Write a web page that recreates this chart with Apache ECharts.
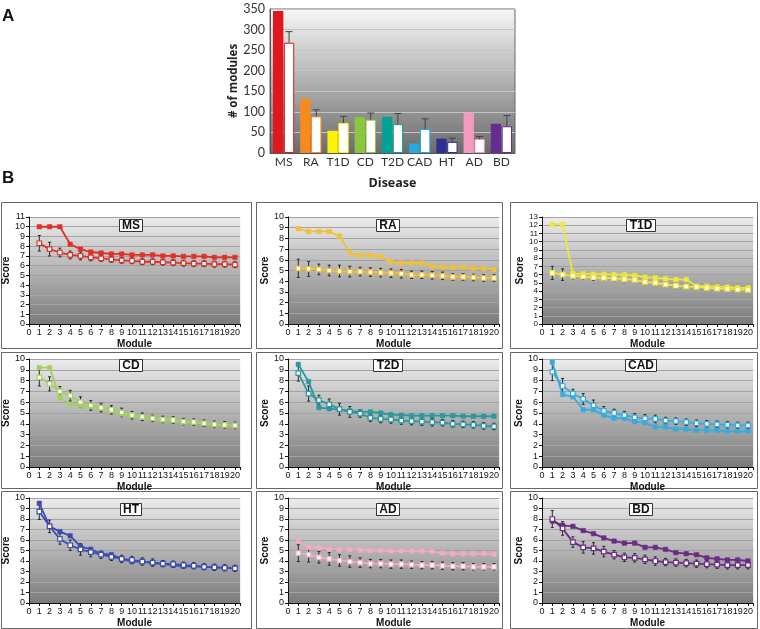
<!DOCTYPE html>
<html>
<head>
<meta charset="utf-8">
<script src="https://cdn.jsdelivr.net/npm/echarts@6/dist/echarts.min.js"></script>
<style>
html,body{margin:0;padding:0;background:#fff;}
#chart{width:760px;height:629px;}
</style>
</head>
<body>
<div id="chart"></div>
<script>
// ---------- Panel A data ----------
const diseases = ['MS','RA','T1D','CD','T2D','CAD','HT','AD','BD'];
const barObserved = [345,132,54,87,88,23,35,98,71];
const barRandom   = [268,89,73,81,70,58,27,34,65];
const barRandomSd = [27,16,16,16,26,25,9,6,26];
const barTicks = [0,50,100,150,200,250,300,350];

// ---------- Panel B data ----------
const modules = [1,2,3,4,5,6,7,8,9,10,11,12,13,14,15,16,17,18,19,20];
const moduleTicks = [0,1,2,3,4,5,6,7,8,9,10,11,12,13,14,15,16,17,18,19,20];

const msObserved = [10,10,10,8.2,7.7,7.4,7.3,7.2,7.2,7.1,7.1,7.1,7.0,7.0,6.95,6.95,6.95,6.85,6.85,6.85];
const msRandom   = [8.3,7.7,7.35,7.1,7.0,6.85,6.75,6.65,6.55,6.5,6.4,6.4,6.35,6.3,6.25,6.2,6.2,6.15,6.15,6.1];
const msRandomSd = [0.8,0.7,0.45,0.4,0.4,0.35,0.3,0.3,0.3,0.3,0.3,0.3,0.3,0.3,0.3,0.3,0.3,0.3,0.3,0.3];

const raObserved = [8.9,8.65,8.65,8.65,8.2,6.7,6.4,6.4,6.3,5.8,5.7,5.7,5.7,5.4,5.3,5.3,5.3,5.2,5.2,5.1];
const raRandom   = [5.2,5.15,5.1,5.0,4.95,4.9,4.9,4.85,4.8,4.75,4.7,4.6,4.6,4.55,4.5,4.4,4.4,4.35,4.3,4.3];
const raRandomSd = [0.85,0.7,0.5,0.5,0.55,0.5,0.4,0.4,0.4,0.4,0.4,0.35,0.35,0.35,0.35,0.3,0.3,0.3,0.3,0.3];

const t1dObserved = [12.1,12.1,6.1,6.1,6.05,6.05,6.0,6.0,5.9,5.7,5.6,5.5,5.4,5.4,4.6,4.6,4.5,4.5,4.4,4.4];
const t1dRandom   = [6.2,6.0,5.85,5.75,5.65,5.6,5.55,5.45,5.35,5.1,5.0,4.8,4.65,4.55,4.5,4.4,4.3,4.25,4.2,4.15];
const t1dRandomSd = [0.8,0.7,0.35,0.35,0.35,0.3,0.3,0.3,0.3,0.3,0.3,0.25,0.25,0.25,0.25,0.25,0.25,0.25,0.25,0.25];

const cdObserved = [9.2,9.2,6.4,5.8,5.7,5.6,5.45,5.2,4.9,4.75,4.6,4.5,4.35,4.3,4.15,4.1,4.0,3.9,3.85,3.8];
const cdRandom   = [8.3,7.7,7.0,6.6,6.0,5.7,5.5,5.3,5.05,4.8,4.65,4.5,4.4,4.35,4.2,4.15,4.05,3.95,3.9,3.85];
const cdRandomSd = [0.8,0.65,0.45,0.5,0.5,0.45,0.4,0.4,0.4,0.35,0.35,0.3,0.3,0.3,0.3,0.3,0.3,0.3,0.3,0.3];

const t2dObserved = [9.5,7.9,5.5,5.4,5.3,5.2,5.1,5.1,5.0,4.85,4.8,4.75,4.75,4.75,4.75,4.75,4.7,4.7,4.7,4.7];
const t2dRandom   = [8.7,6.8,6.2,5.8,5.35,5.1,4.95,4.55,4.45,4.4,4.3,4.25,4.2,4.15,4.1,4.0,3.95,3.9,3.8,3.75];
const t2dRandomSd = [0.75,0.7,0.45,0.5,0.55,0.5,0.35,0.35,0.35,0.35,0.35,0.35,0.35,0.35,0.3,0.3,0.3,0.3,0.3,0.3];

const cadObserved = [9.7,6.7,6.5,5.3,5.3,4.8,4.5,4.5,4.2,4.1,3.7,3.7,3.5,3.5,3.4,3.4,3.4,3.3,3.3,3.3];
const cadRandom   = [8.8,7.5,6.8,6.3,5.7,5.2,5.0,4.8,4.6,4.5,4.45,4.3,4.25,4.15,4.05,4.0,3.95,3.9,3.85,3.85];
const cadRandomSd = [0.8,0.7,0.4,0.5,0.5,0.4,0.35,0.35,0.35,0.35,0.35,0.3,0.3,0.3,0.3,0.3,0.3,0.3,0.3,0.3];

const htObserved = [9.5,7.3,6.8,6.4,5.4,5.1,4.7,4.6,4.2,3.95,3.95,3.8,3.7,3.6,3.5,3.5,3.45,3.4,3.35,3.3];
const htRandom   = [8.7,7.3,6.1,5.5,5.1,4.85,4.6,4.4,4.2,4.1,3.95,3.85,3.75,3.7,3.6,3.55,3.45,3.4,3.35,3.3];
const htRandomSd = [0.75,0.6,0.5,0.5,0.55,0.45,0.35,0.35,0.35,0.35,0.35,0.35,0.3,0.3,0.3,0.3,0.3,0.3,0.3,0.3];

const adObserved = [5.9,5.3,5.25,5.15,5.1,5.1,5.05,5.0,5.0,4.95,4.95,4.95,4.95,4.9,4.75,4.7,4.7,4.7,4.7,4.65];
const adRandom   = [4.75,4.6,4.35,4.2,4.05,3.95,3.85,3.75,3.75,3.7,3.7,3.65,3.6,3.6,3.55,3.5,3.5,3.45,3.45,3.45];
const adRandomSd = [0.8,0.7,0.55,0.6,0.55,0.55,0.45,0.4,0.4,0.4,0.4,0.35,0.35,0.35,0.35,0.35,0.35,0.3,0.3,0.3];

const bdObserved = [7.8,7.4,7.3,6.9,6.6,6.2,5.9,5.7,5.7,5.3,5.3,5.1,4.8,4.7,4.6,4.3,4.2,4.1,4.1,4.0];
const bdRandom   = [8.0,7.1,5.8,5.3,5.2,4.9,4.6,4.35,4.3,4.15,4.0,3.9,3.85,3.8,3.75,3.7,3.65,3.6,3.6,3.6];
const bdRandomSd = [0.8,0.65,0.5,0.55,0.55,0.5,0.4,0.4,0.4,0.4,0.4,0.35,0.35,0.35,0.35,0.35,0.35,0.35,0.35,0.35];

const panelNames = ['MS','RA','T1D','CD','T2D','CAD','HT','AD','BD'];
const panelYMax  = [11,10,13,10,10,10,10,10,10];

// ---------- styles / layout ----------
const barColors = ['#e3151d','#f58b1f','#fff200','#8cc63f','#00a396','#27a9e1','#2e3192','#f49ac1','#662d91'];
const lineColors = ['#e0302a','#f2c036','#eee63a','#a4d060','#2a98a0','#36ace0','#3e4cb2','#f3aac4','#6d2a86'];
const panelObserved = [msObserved,raObserved,t1dObserved,cdObserved,t2dObserved,cadObserved,htObserved,adObserved,bdObserved];
const panelRandom = [msRandom,raRandom,t1dRandom,cdRandom,t2dRandom,cadRandom,htRandom,adRandom,bdRandom];
const panelRandomSd = [msRandomSd,raRandomSd,t1dRandomSd,cdRandomSd,t2dRandomSd,cadRandomSd,htRandomSd,adRandomSd,bdRandomSd];

const colX0 = [29, 288, 542];
const unitW = 10.3;
const rowTop = [217, 359, 498];
const rowH = [107, 108, 109];
const frameCols = [[1,251],[256,502],[510,757]];
const frameRows = [[202,348],[352,488],[491,628]];
const titleCX = [128, 385, 638];
const titleTop = [219, 359, 503];
const scoreGap = [9, 15, 6];

const chart = echarts.init(document.getElementById('chart'), null, {renderer:'canvas'});
const G = echarts.graphic;

const grids = [], xAxes = [], yAxes = [], series = [], titles = [], graphics = [];

// Panel A
grids.push({left:270, top:9, width:245, height:144, show:true,
  backgroundColor: new G.LinearGradient(0,0,0,1,[{offset:0,color:'#f7f7f7'},{offset:1,color:'#6b6b6b'}]),
  borderColor:'#666', borderWidth:1});
xAxes.push({type:'category', gridIndex:0, data:diseases,
  axisLine:{show:true, lineStyle:{color:'#555'}}, axisTick:{show:false},
  axisLabel:{interval:0, fontFamily:'Lato', fontSize:12, color:'#333', margin:3},
  name:'Disease', nameLocation:'middle', nameGap:24,
  nameTextStyle:{fontFamily:'Open Sans', fontWeight:'bold', fontSize:12.5, color:'#222'}});
yAxes.push({type:'value', gridIndex:0, min:barTicks[0], max:barTicks[barTicks.length-1], interval:50,
  axisLine:{show:true, lineStyle:{color:'#555'}}, axisTick:{show:false},
  axisLabel:{fontFamily:'Lato', fontSize:12.5, color:'#333', margin:5, showMaxLabel:true, showMinLabel:true},
  splitLine:{show:true, lineStyle:{color:'#c4c4c4', width:1}},
  name:'# of modules', nameLocation:'middle', nameGap:25,
  nameTextStyle:{fontFamily:'Open Sans', fontWeight:'bold', fontSize:11.5, color:'#222'}});
series.push({type:'bar', xAxisIndex:0, yAxisIndex:0, name:'observed', barCategoryGap:'22%', barGap:'5%',
  data: barObserved.map((v,i)=>({value:v, itemStyle:{color:barColors[i]}})), z:3});
series.push({type:'bar', xAxisIndex:0, yAxisIndex:0, name:'random', barGap:'5%',
  data: barRandom.map((v,i)=>({value:v, itemStyle:{color:'#fff', borderColor:barColors[i], borderWidth:1}})), z:3});
series.push({type:'custom', xAxisIndex:0, yAxisIndex:0, z:4,
  data: barRandom.map((v,i)=>[i, v, v+barRandomSd[i]]),
  renderItem:function(params, api){
    const bw = api.size([1,0])[0];
    const b = 0.78*bw/2.05;
    const off = 0.05*b/2 + b/2;
    const p0 = api.coord([api.value(0), api.value(1)]);
    const p1 = api.coord([api.value(0), api.value(2)]);
    const x = p0[0] + off;
    return {type:'group', children:[
      {type:'line', shape:{x1:x,y1:p0[1],x2:x,y2:p1[1]}, style:{stroke:'#444', lineWidth:1}},
      {type:'line', shape:{x1:x-3.5,y1:p1[1],x2:x+3.5,y2:p1[1]}, style:{stroke:'#444', lineWidth:1}}
    ]};
  }});

// Panel B
function errRender(params, api){
  const x = api.value(0), lo = api.value(1), hi = api.value(2);
  const a = api.coord([x, lo]), b = api.coord([x, hi]);
  const w = 1.5;
  const st = {stroke:'#2b2b2b', lineWidth:1};
  return {type:'group', children:[
    {type:'line', shape:{x1:a[0],y1:a[1],x2:b[0],y2:b[1]}, style:st},
    {type:'line', shape:{x1:a[0]-w,y1:a[1],x2:a[0]+w,y2:a[1]}, style:st},
    {type:'line', shape:{x1:b[0]-w,y1:b[1],x2:b[0]+w,y2:b[1]}, style:st}
  ]};
}

const fontB = 'Liberation Sans, Arial, sans-serif';
for (let p=0; p<9; p++){
  const r = Math.floor(p/3), c = p%3;
  const gi = p+1;
  const fx = frameCols[c], fy = frameRows[r];
  graphics.push({type:'rect', shape:{x:fx[0]+0.5, y:fy[0]+0.5, width:fx[1]-fx[0], height:fy[1]-fy[0]},
    style:{fill:'#fff', stroke:'#666', lineWidth:1}, z:-10});
  grids.push({left:colX0[c], top:rowTop[r], width:unitW*20.5, height:rowH[r], show:true,
    backgroundColor: new G.LinearGradient(0,0,0,1,[{offset:0,color:'#ececec'},{offset:1,color:'#7b7b7b'}]),
    borderWidth:0});
  xAxes.push({type:'value', gridIndex:gi, min:moduleTicks[0], max:20.5, interval:1,
    axisLine:{show:true, onZero:false, lineStyle:{color:'#111', width:1}},
    axisTick:{show:true, length:3, lineStyle:{color:'#111'}},
    axisLabel:{fontFamily:fontB, fontSize:9, color:'#111', margin:4, showMinLabel:true, showMaxLabel:true,
      formatter:(v)=> moduleTicks.indexOf(v)>=0 ? String(v) : ''},
    splitLine:{show:false},
    name:'Module', nameLocation:'middle', nameGap:15,
    nameTextStyle:{fontFamily:fontB, fontWeight:'bold', fontSize:10, color:'#111'}});
  yAxes.push({type:'value', gridIndex:gi, min:0, max:panelYMax[p], interval:1,
    axisLine:{show:true, lineStyle:{color:'#111', width:1}},
    axisTick:{show:true, length:3, lineStyle:{color:'#111'}},
    axisLabel:{fontFamily:fontB, fontSize:(panelYMax[p] > 11 ? 8 : 9), color:'#111', margin:4,
      showMinLabel:true, showMaxLabel:true},
    splitLine:{show:true, lineStyle:{color:'#a3a3a3', width:1}},
    name:'Score', nameLocation:'middle', nameGap:scoreGap[c],
    nameTextStyle:{fontFamily:fontB, fontWeight:'bold', fontSize:10, color:'#111'}});
  const col = lineColors[p];
  series.push({type:'line', xAxisIndex:gi, yAxisIndex:gi, name:panelNames[p]+' observed',
    data: modules.map((m,i)=>[m, panelObserved[p][i]]),
    symbol:'rect', symbolSize:4.5, showSymbol:true,
    lineStyle:{color:col, width:1.8}, itemStyle:{color:col, borderColor:col, borderWidth:0.5}, z:3});
  series.push({type:'custom', xAxisIndex:gi, yAxisIndex:gi, z:2,
    data: modules.map((m,i)=>[m, panelRandom[p][i]-panelRandomSd[p][i], panelRandom[p][i]+panelRandomSd[p][i]]),
    renderItem: errRender});
  series.push({type:'line', xAxisIndex:gi, yAxisIndex:gi, name:panelNames[p]+' random',
    data: modules.map((m,i)=>[m, panelRandom[p][i]]),
    symbol:'rect', symbolSize:4.5, showSymbol:true,
    lineStyle:{color:col, width:1.8}, itemStyle:{color:'#fff', borderColor:col, borderWidth:1.2}, z:3});
  titles.push({text:panelNames[p], left:titleCX[c], top:titleTop[r], textAlign:'center',
    backgroundColor:'#fff', borderColor:'#333', borderWidth:1, padding:[1,3,0,3],
    textStyle:{fontFamily:fontB, fontWeight:'bold', fontSize:12, color:'#111'}});
}

graphics.push({type:'text', x:2, y:8, style:{text:'A', font:'bold 17px Liberation Sans, Arial', fill:'#111'}});
graphics.push({type:'text', x:2, y:170, style:{text:'B', font:'bold 17px Liberation Sans, Arial', fill:'#111'}});

chart.setOption({
  animation:false,
  title: titles,
  grid: grids,
  xAxis: xAxes,
  yAxis: yAxes,
  series: series,
  graphic: graphics
});
</script>
</body>
</html>
